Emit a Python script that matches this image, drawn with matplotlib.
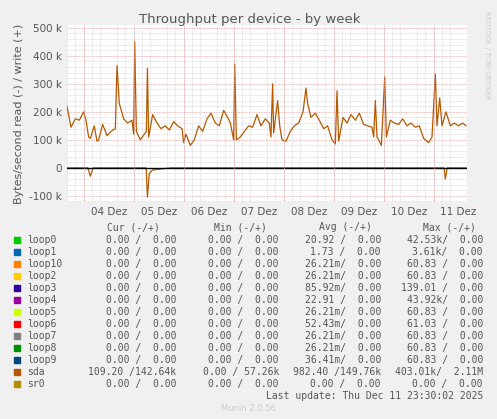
import matplotlib
matplotlib.use("Agg")
import matplotlib.pyplot as plt
import numpy as np
from matplotlib.ticker import MultipleLocator

hours = [0,1.9,4,5.9,8,9.1,10.4,11.2,13.1,14.4,15.2,17.1,19.2,21.1,23.2,24,25.1,27.2,29.1,31.2,32,32.5,33.3,35.2,37.1,38.1,38.6,39.2,41.1,43.2,45.1,47.2,49.1,51.2,53.1,55.2,56,57.1,59.2,61.1,63.2,65.1,67.2,69.1,71.2,73.1,75.2,77.1,78.4,80,80.5,81.3,83.2,85.1,87.2,89.1,91.2,93.1,95.2,97.1,97.9,98.7,99.2,101.1,102.1,103.2,105.1,107.2,109.1,111.2,113.3,114.7,115.5,117.1,119.2,121.1,123.2,125.1,127.2,128.8,129.6,130.4,132.5,134.4,136.3,138.4,140.3,142.4,144.3,146.4,147.2,148,148.8,149.6,150.9,152.5,153.3,155.2,157.1,159.2,161.1,163.2,165.1,167.2,169.1,171.2,173.6,175.2,176.8,177.6,178.9,180,181.9,184,185.9,188,189.9,191.5]
write_k = [220,145,175,170,200,170,110,105,150,95,100,155,115,130,140,365,230,175,160,170,120,450,130,100,120,130,355,110,190,160,140,150,135,165,150,140,90,120,80,100,150,130,175,195,160,150,205,180,160,100,370,100,110,130,150,145,190,150,175,160,110,300,125,240,150,100,95,130,150,160,200,285,230,180,195,170,140,150,100,85,275,95,180,160,190,170,195,155,150,145,110,240,110,100,80,325,110,170,160,155,175,150,160,145,150,105,90,110,335,150,250,150,200,150,160,150,160,150]
read_hours = [0,10,11.2,12.5,38,38.6,39.5,41,45,50,181,181.6,182.5,192]
read_k = [0,0,30,0,0,105,20,8,4,0,0,40,0,0]
day_labels = ["04 Dez","05 Dez","06 Dez","07 Dez","08 Dez","09 Dez","10 Dez","11 Dez"]

names = ["loop0","loop1","loop10","loop2","loop3","loop4","loop5","loop6","loop7","loop8","loop9","sda","sr0"]
colors = ["#00cc00","#0066b3","#ff8000","#ffcc00","#330099","#990099","#ccff00","#ff0000","#808080","#008f00","#00487d","#b35a00","#b38f00"]
cur = ["0.00 /  0.00"]*11 + ["109.20 /142.64k","0.00 /  0.00"]
mn = ["0.00 /  0.00"]*11 + ["0.00 / 57.26k","0.00 /  0.00"]
avg = ["20.92 /  0.00","1.73 /  0.00","26.21m/  0.00","26.21m/  0.00","85.92m/  0.00","22.91 /  0.00","26.21m/  0.00","52.43m/  0.00","26.21m/  0.00","26.21m/  0.00","36.41m/  0.00","982.40 /149.76k","0.00 /  0.00"]
mx = ["42.53k/  0.00","3.61k/  0.00","60.83 /  0.00","60.83 /  0.00","139.01 /  0.00","43.92k/  0.00","60.83 /  0.00","61.03 /  0.00","60.83 /  0.00","60.83 /  0.00","60.83 /  0.00","403.01k/  2.11M","0.00 /  0.00"]

W, H = 497, 419
fig = plt.figure(figsize=(W/100, H/100), dpi=100, facecolor="#f0f0f0")
ax = fig.add_axes([67/W, 1-202/H, 400/W, 177/H], facecolor="white")
sda = colors[11]
ax.plot(hours, np.array(write_k)*1000, color=sda, lw=0.9)
ax.plot(read_hours, -np.array(read_k)*1000, color=sda, lw=0.9)
ax.axhline(0, color="black", lw=1)
ax.set_xlim(0, 192)
ax.set_ylim(-122000, 510000)
ax.set_yticks([-100000,0,100000,200000,300000,400000,500000])
ax.set_yticklabels(["-100 k","0","100 k","200 k","300 k","400 k","500 k"])
ax.set_xticks([20+24*i for i in range(8)])
ax.set_xticklabels(day_labels)
ax.yaxis.set_minor_locator(MultipleLocator(20000))
ax.xaxis.set_minor_locator(MultipleLocator(4))
ax.grid(which="minor", color="#cccccc", ls=(0,(1,1)), lw=0.5)
for d in range(8, 192, 24):
    ax.axvline(d, color="#e8a0a0", ls=(0,(1,1)), lw=0.6)
for y in range(-100000, 500001, 100000):
    ax.axhline(y, color="#e8a0a0", ls=(0,(1,1)), lw=0.6, zorder=0)
ax.set_axisbelow(True)
for s in ax.spines.values():
    s.set_visible(False)
ax.tick_params(which="both", length=0, labelsize=7.5, colors="#555555")
ax.set_ylabel("Bytes/second read (-) / write (+)", fontsize=8, color="#555555")
fig.text(250/W, 1-19/H, "Throughput per device - by week", ha="center", va="center", fontsize=9.5, color="#555555")
fig.text(487/W, 1-55/H, "RRDTOOL / TOBI OETIKER", rotation=270, ha="center", va="center", fontsize=5, color="#cccccc")

mono = dict(family="DejaVu Sans Mono", fontsize=7, color="#555555", va="center")
for hx, ht in [(133,"Cur (-/+)"),(240,"Min (-/+)"),(345,"Avg (-/+)"),(449,"Max (-/+)")]:
    fig.text(hx/W, 1-227/H, ht, ha="center", **mono)
for i, n in enumerate(names):
    y = 1-(240+12*i)/H
    fig.patches.append(plt.Rectangle((14/W, y-3/H), 6/W, 6/H, transform=fig.transFigure, color=colors[i]))
    fig.text(27/W, y, n, ha="left", **mono)
    fig.text(176/W, y, cur[i], ha="right", **mono)
    fig.text(279/W, y, mn[i], ha="right", **mono)
    fig.text(381/W, y, avg[i], ha="right", **mono)
    fig.text(483/W, y, mx[i], ha="right", **mono)
fig.text(483/W, 1-396/H, "Last update: Thu Dec 11 23:30:02 2025", ha="right", **mono)
fig.text(248/W, 1-408/H, "Munin 2.0.56", ha="center", family="DejaVu Sans", fontsize=6, color="#cccccc", va="center")
fig.savefig("out.png", dpi=100, facecolor=fig.get_facecolor())
